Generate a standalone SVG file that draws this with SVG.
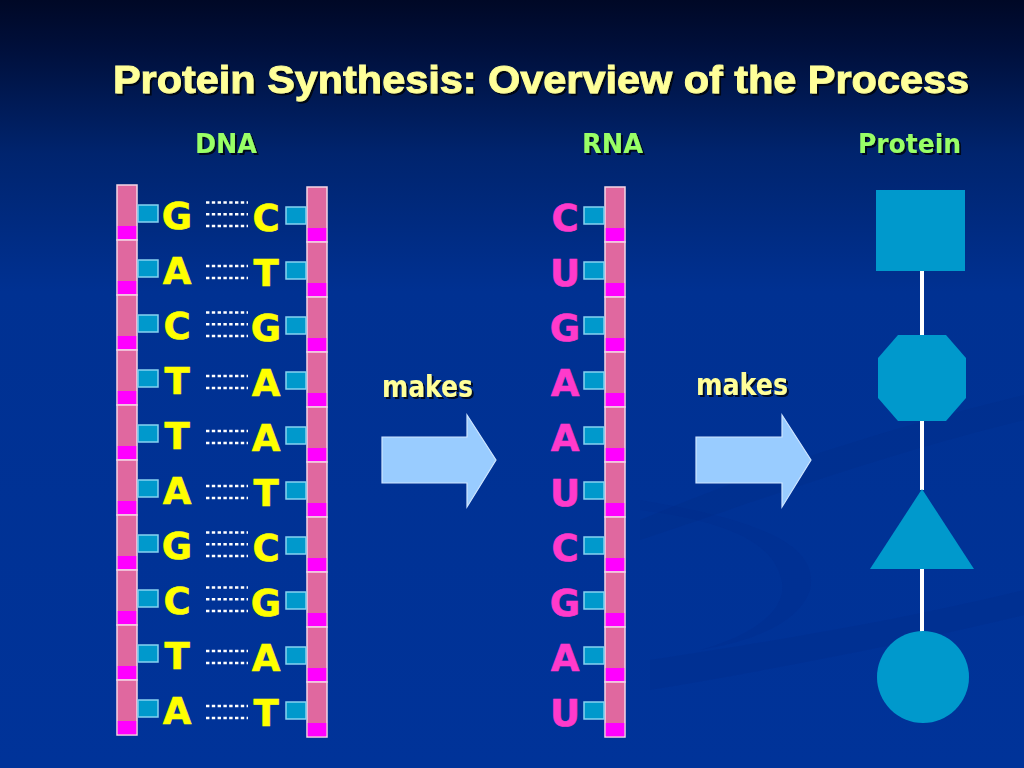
<svg xmlns="http://www.w3.org/2000/svg" xmlns:xlink="http://www.w3.org/1999/xlink" width="1024" height="768" viewBox="0 0 1024 768">
<defs>
<linearGradient id="bg" x1="0" y1="0" x2="0" y2="1">
<stop offset="0" stop-color="#000826"/>
<stop offset="0.06" stop-color="#000f3a"/>
<stop offset="0.2" stop-color="#00246e"/>
<stop offset="0.38" stop-color="#003192"/>
<stop offset="1" stop-color="#003399"/>
</linearGradient>
<filter id="sh" x="-10%" y="-40%" width="120%" height="180%">
<feDropShadow dx="2" dy="2" stdDeviation="0.6" flood-color="#000000" flood-opacity="0.75"/>
</filter>
<g id="seg">
<rect x="0" y="0" width="20" height="55" class="seg"/>
<rect x="0.75" y="41" width="18.5" height="13.25" class="mag"/>
</g>
</defs>
<style>
.seg{fill:#E0689F;stroke:#F4D6E6;stroke-width:1.5}
.mag{fill:#FF00FF}
.con{fill:#0099CC;stroke:#86D2F0;stroke-width:1.5}
.dna{font-family:"DejaVu Sans","Liberation Sans",sans-serif;font-weight:bold;font-size:37px;fill:#FFFF00;stroke:#FFFF00;stroke-width:0.6;text-anchor:middle}
.rna{font-family:"DejaVu Sans","Liberation Sans",sans-serif;font-weight:bold;font-size:37px;fill:#FF3ACB;stroke:#FF3ACB;stroke-width:0.6;text-anchor:middle}
.hdr{font-family:"DejaVu Sans","Liberation Sans",sans-serif;font-weight:bold;font-size:27px;fill:#99FF66}
.ttl{font-family:"Liberation Sans",Arial,sans-serif;font-weight:bold;font-size:38px;fill:#FFFF99;stroke:#FFFF99;stroke-width:0.9}
.mk{font-family:"DejaVu Sans","Liberation Sans",sans-serif;font-weight:bold;font-size:30px;fill:#FFFF99}
.hb{stroke:#FFFFFF;stroke-width:2.6;stroke-dasharray:3.4 2.4;fill:none}
.arrow{fill:#99CCFF;stroke:#CFE6FF;stroke-width:1.2}
.prot{fill:#0099CC}
.link{stroke:#FFFFFF;stroke-width:4;fill:none}
</style>
<rect x="0" y="0" width="1024" height="768" fill="url(#bg)"/>
<path d="M640,520 C760,470 880,430 1024,395 L1024,420 C880,455 760,500 640,540 Z" fill="#002a85" opacity="0.25"/>
<path d="M650,660 C780,640 900,620 1024,590 L1024,615 C900,645 780,668 650,690 Z" fill="#002a85" opacity="0.22"/>
<path d="M640,500 C760,520 820,545 810,590 C800,620 760,640 700,650 C770,630 790,600 780,575 C770,540 720,520 640,510 Z" fill="#002a85" opacity="0.2"/>

<g id="title"><text class="ttl" x="113" y="93" textLength="856" lengthAdjust="spacingAndGlyphs" filter="url(#sh)">Protein Synthesis: Overview of the Process</text></g>
<g id="hdr-dna"><text class="hdr" x="195" y="153" textLength="62" lengthAdjust="spacingAndGlyphs" filter="url(#sh)">DNA</text></g>
<g id="hdr-rna"><text class="hdr" x="582" y="153" textLength="61" lengthAdjust="spacingAndGlyphs" filter="url(#sh)">RNA</text></g>
<g id="hdr-protein"><text class="hdr" x="858" y="153" textLength="103" lengthAdjust="spacingAndGlyphs" filter="url(#sh)">Protein</text></g>

<g id="dna-left-strand">
<use xlink:href="#seg" x="117" y="185"/><use xlink:href="#seg" x="117" y="240"/><use xlink:href="#seg" x="117" y="295"/><use xlink:href="#seg" x="117" y="350"/><use xlink:href="#seg" x="117" y="405"/>
<use xlink:href="#seg" x="117" y="460"/><use xlink:href="#seg" x="117" y="515"/><use xlink:href="#seg" x="117" y="570"/><use xlink:href="#seg" x="117" y="625"/><use xlink:href="#seg" x="117" y="680"/>
<rect class="con" x="138" y="205" width="20" height="17"/><rect class="con" x="138" y="260" width="20" height="17"/><rect class="con" x="138" y="315" width="20" height="17"/><rect class="con" x="138" y="370" width="20" height="17"/><rect class="con" x="138" y="425" width="20" height="17"/>
<rect class="con" x="138" y="480" width="20" height="17"/><rect class="con" x="138" y="535" width="20" height="17"/><rect class="con" x="138" y="590" width="20" height="17"/><rect class="con" x="138" y="645" width="20" height="17"/><rect class="con" x="138" y="700" width="20" height="17"/>
<text class="dna" x="177" y="229">G</text><text class="dna" x="177" y="284">A</text><text class="dna" x="177" y="339">C</text><text class="dna" x="177" y="394">T</text><text class="dna" x="177" y="449">T</text>
<text class="dna" x="177" y="504">A</text><text class="dna" x="177" y="559">G</text><text class="dna" x="177" y="614">C</text><text class="dna" x="177" y="669">T</text><text class="dna" x="177" y="724">A</text>
</g>

<g id="dna-right-strand">
<use xlink:href="#seg" x="307" y="187"/><use xlink:href="#seg" x="307" y="242"/><use xlink:href="#seg" x="307" y="297"/><use xlink:href="#seg" x="307" y="352"/><use xlink:href="#seg" x="307" y="407"/>
<use xlink:href="#seg" x="307" y="462"/><use xlink:href="#seg" x="307" y="517"/><use xlink:href="#seg" x="307" y="572"/><use xlink:href="#seg" x="307" y="627"/><use xlink:href="#seg" x="307" y="682"/>
<rect class="con" x="286" y="207" width="20" height="17"/><rect class="con" x="286" y="262" width="20" height="17"/><rect class="con" x="286" y="317" width="20" height="17"/><rect class="con" x="286" y="372" width="20" height="17"/><rect class="con" x="286" y="427" width="20" height="17"/>
<rect class="con" x="286" y="482" width="20" height="17"/><rect class="con" x="286" y="537" width="20" height="17"/><rect class="con" x="286" y="592" width="20" height="17"/><rect class="con" x="286" y="647" width="20" height="17"/><rect class="con" x="286" y="702" width="20" height="17"/>
<text class="dna" x="266" y="231">C</text><text class="dna" x="266" y="286">T</text><text class="dna" x="266" y="341">G</text><text class="dna" x="266" y="396">A</text><text class="dna" x="266" y="451">A</text>
<text class="dna" x="266" y="506">T</text><text class="dna" x="266" y="561">C</text><text class="dna" x="266" y="616">G</text><text class="dna" x="266" y="671">A</text><text class="dna" x="266" y="726">T</text>
</g>

<g id="rna-strand">
<use xlink:href="#seg" x="605" y="187"/><use xlink:href="#seg" x="605" y="242"/><use xlink:href="#seg" x="605" y="297"/><use xlink:href="#seg" x="605" y="352"/><use xlink:href="#seg" x="605" y="407"/>
<use xlink:href="#seg" x="605" y="462"/><use xlink:href="#seg" x="605" y="517"/><use xlink:href="#seg" x="605" y="572"/><use xlink:href="#seg" x="605" y="627"/><use xlink:href="#seg" x="605" y="682"/>
<rect class="con" x="584" y="207" width="20" height="17"/><rect class="con" x="584" y="262" width="20" height="17"/><rect class="con" x="584" y="317" width="20" height="17"/><rect class="con" x="584" y="372" width="20" height="17"/><rect class="con" x="584" y="427" width="20" height="17"/>
<rect class="con" x="584" y="482" width="20" height="17"/><rect class="con" x="584" y="537" width="20" height="17"/><rect class="con" x="584" y="592" width="20" height="17"/><rect class="con" x="584" y="647" width="20" height="17"/><rect class="con" x="584" y="702" width="20" height="17"/>
<text class="rna" x="565" y="231">C</text><text class="rna" x="565" y="286">U</text><text class="rna" x="565" y="341">G</text><text class="rna" x="565" y="396">A</text><text class="rna" x="565" y="451">A</text>
<text class="rna" x="565" y="506">U</text><text class="rna" x="565" y="561">C</text><text class="rna" x="565" y="616">G</text><text class="rna" x="565" y="671">A</text><text class="rna" x="565" y="726">U</text>
</g>

<g id="connectors">
<path class="hb" d="M206,202.5H248M206,214.3H248M206,226H248"/>
<path class="hb" d="M206,266H248M206,278H248"/>
<path class="hb" d="M206,312.5H248M206,324.3H248M206,336H248"/>
<path class="hb" d="M206,376H248M206,388H248"/>
<path class="hb" d="M206,431H248M206,443H248"/>
<path class="hb" d="M206,486H248M206,498H248"/>
<path class="hb" d="M206,532.5H248M206,544.3H248M206,556H248"/>
<path class="hb" d="M206,587.5H248M206,599.3H248M206,611H248"/>
<path class="hb" d="M206,651H248M206,663H248"/>
<path class="hb" d="M206,706H248M206,718H248"/>
<path class="link" d="M922,271V335M922,421V490M922,569V633"/>
</g>

<g id="makes-1">
<polygon class="arrow" points="382,437 467,437 467,415 496,460 467,507 467,483 382,483"/>
<text class="mk" x="382" y="397" textLength="91" lengthAdjust="spacingAndGlyphs" filter="url(#sh)">makes</text>
</g>
<g id="makes-2">
<polygon class="arrow" points="696,437 782,437 782,415 811,460 782,507 782,483 696,483"/>
<text class="mk" x="696" y="395" textLength="92" lengthAdjust="spacingAndGlyphs" filter="url(#sh)">makes</text>
</g>

<g id="protein-square"><rect class="prot" x="876" y="190" width="89" height="81"/></g>
<g id="protein-octagon"><polygon class="prot" points="898,335 946,335 966,358 966,398 946,421 898,421 878,398 878,358"/></g>
<g id="protein-triangle"><polygon class="prot" points="922,489 974,569 870,569"/></g>
<g id="protein-circle"><circle class="prot" cx="923" cy="677" r="46"/></g>
</svg>
